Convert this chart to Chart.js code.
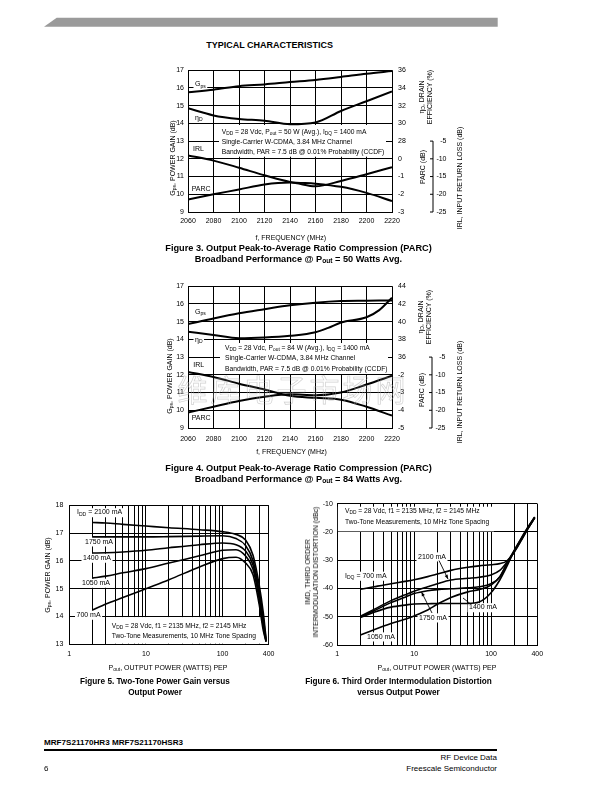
<!DOCTYPE html>
<html><head><meta charset="utf-8">
<script src="https://cdn.jsdelivr.net/npm/chart.js@4.4.1/dist/chart.umd.min.js"></script>
<style>
html,body{margin:0;padding:0;background:#fff;}
body{width:612px;height:792px;position:relative;overflow:hidden;color:#000;}
canvas{position:absolute;}
.t{position:absolute;white-space:nowrap;line-height:1;}
.t sub{font-size:72%;vertical-align:-0.25em;line-height:0;}
</style></head><body>
<svg style="position:absolute;left:0;top:0" width="612" height="40"><polygon points="56.7,17.7 497.7,17.7 497.7,26.7 44,26.7" fill="#9a9a9a"/></svg>
<canvas id="c3" width="350" height="175" style="left:130px;top:60px;width:350px;height:175px"></canvas>
<canvas id="c4" width="350" height="175" style="left:130px;top:276px;width:350px;height:175px"></canvas>
<canvas id="c5" width="250" height="170" style="left:30px;top:495px;width:250px;height:170px"></canvas>
<canvas id="c6" width="260" height="170" style="left:290px;top:495px;width:260px;height:170px"></canvas>
<script>
const NARROW = '"Liberation Sans Narrow", "Liberation Sans", Arial, sans-serif';
const WIDE = '"Liberation Sans", Arial, sans-serif';

// ---------- Figure 3 data (Pout = 50 W) ----------
const fig3Freq = [2060, 2080, 2100, 2120, 2140, 2160, 2180, 2200, 2220];
const fig3Gps  = [15.75, 15.9, 16.1, 16.2, 16.33, 16.45, 16.62, 16.8, 16.95];
const fig3EtaFreq = [2060, 2080, 2100, 2120, 2140, 2160, 2180, 2200, 2220];
const fig3Eta  = [31.7, 30.9, 30.5, 30.3, 29.9, 30.1, 31.4, 32.5, 33.6];
const fig3Irl  = [-9.05, -10.5, -12.5, -14.65, -16.5, -17.0, -17.9, -19.6, -21.9];
const fig3Parc = [-2.29, -2.0, -1.73, -1.45, -1.34, -1.55, -1.25, -0.87, -0.47];
const fig3GainTicks = [9, 10, 11, 12, 13, 14, 15, 16, 17];
const fig3EtaTicks  = [28, 30, 32, 34, 36];
const fig3ParcTicks = [0, -1, -2, -3];
const fig3IrlTicks  = [-5, -10, -15, -20, -25];

// ---------- Figure 4 data (Pout = 84 W) ----------
const fig4Freq = [2060, 2080, 2100, 2120, 2140, 2160, 2180, 2200, 2220];
const fig4Gps  = [14.86, 15.18, 15.47, 15.7, 15.92, 16.07, 16.16, 16.18, 16.2];
const fig4EtaFreq = [2060, 2080, 2100, 2120, 2140, 2160, 2170, 2180, 2200, 2210, 2220];
const fig4Eta  = [38.86, 38.5, 38.12, 38.2, 38.4, 38.8, 39.3, 39.9, 40.5, 41.3, 42.7];
const fig4Irl  = [-9.2, -10.6, -12.5, -14.15, -15.9, -16.5, -17.0, -19.0, -21.5];
const fig4Parc = [-4.13, -3.8, -3.48, -3.24, -3.1, -3.15, -3.0, -2.55, -2.05];
const fig4GainTicks = [9, 10, 11, 12, 13, 14, 15, 16, 17];
const fig4EtaTicks  = [36, 38, 40, 42, 44];
const fig4ParcTicks = [-2, -3, -4, -5];
const fig4IrlTicks  = [-5, -10, -15, -20, -25];

// ---------- Figure 5 data (two-tone gain) ----------
const fig5Pout  = [2, 3, 5, 10, 20, 50, 100, 150, 200, 250, 300, 340, 370];
const fig5G2100 = [17.38, 17.36, 17.31, 17.25, 17.19, 17.12, 17.05, 16.95, 16.75, 16.2, 15.15, 14.15, 13.2];
const fig5G1750 = [16.86, 16.86, 16.86, 16.86, 16.87, 16.89, 16.9, 16.8, 16.55, 16.0, 14.95, 13.95, 13.15];
const fig5G1400 = [16.28, 16.29, 16.32, 16.38, 16.47, 16.58, 16.64, 16.58, 16.35, 15.85, 14.8, 13.8, 13.1];
const fig5G1050 = [15.38, 15.45, 15.57, 15.72, 15.92, 16.18, 16.38, 16.4, 16.17, 15.7, 14.65, 13.65, 13.1];
const fig5G700  = [14.23, 14.45, 14.68, 15.0, 15.32, 15.78, 16.08, 16.13, 15.92, 15.5, 14.45, 13.5, 13.1];
const fig5GainTicks = [13, 14, 15, 16, 17, 18];

// ---------- Figure 6 data (IMD) ----------
const fig6Pout  = [2, 3, 5, 8, 10, 15, 20, 30, 50, 70, 100, 130, 160, 200, 250, 300, 370];
const fig6I700  = [-40.3, -39.4, -38.3, -37.4, -36.9, -35.8, -34.9, -33.6, -32.5, -32.0, -31.6, -31.2, -30.3, -27.2, -22.8, -19.0, -15.0];
const fig6I2100 = [-49.8, -47.4, -44.3, -42.0, -41.0, -39.4, -38.3, -37.0, -36.4, -36.0, -35.2, -33.6, -30.8, -27.0, -22.6, -18.9, -15.0];
const fig6I1750 = [-50.0, -47.9, -45.0, -42.8, -41.8, -40.8, -40.4, -40.1, -39.8, -39.4, -38.3, -36.0, -31.4, -26.9, -22.4, -18.8, -14.9];
const fig6I1400 = [-50.3, -48.4, -46.6, -45.8, -45.5, -45.4, -45.3, -45.3, -45.3, -44.8, -41.5, -37.0, -32.3, -26.8, -22.2, -18.6, -14.8];
const fig6I1050 = [-56.5, -54.6, -52.4, -50.7, -49.7, -47.6, -45.6, -43.2, -41.2, -40.4, -38.8, -35.8, -31.2, -26.5, -22.0, -18.4, -14.7];
const fig6ImdTicks = [-60, -50, -40, -30, -20, -10];

// log axis grid/ticks shared by fig 5 and 6
const powerGridTicks = [1,2,3,4,5,6,7,8,9,10,20,30,40,50,60,70,80,90,100,200,300,400];
const powerTickLabels = [1, 10, 100, 400];

Chart.defaults.font.family = NARROW;
Chart.defaults.font.size = 7;
Chart.defaults.color = '#000';

const GRID = {color:'#000', lineWidth:1, drawTicks:false};
const BORDER = {color:'#000', width:1};
const NOTE = 6.7;

function series(xs, ys, axis, w) {
  return {data: xs.map((x, i) => ({x: x, y: ys[i]})), yAxisID: axis, borderColor:'#000',
          borderWidth: w, pointRadius: 0, fill: false, cubicInterpolationMode: 'monotone'};
}

function rich(ctx, str, x, y, size, align, bg) {
  const parts = []; const re = /_\{([^}]*)\}/g; let last = 0, m;
  while ((m = re.exec(str))) {
    if (m.index > last) parts.push({t: str.slice(last, m.index), sub: false});
    parts.push({t: m[1], sub: true}); last = re.lastIndex;
  }
  if (last < str.length) parts.push({t: str.slice(last), sub: false});
  let w = 0;
  parts.forEach(p => { ctx.font = (p.sub ? size * 0.72 : size) + 'px ' + NARROW; p.w = ctx.measureText(p.t).width; w += p.w; });
  let sx = align === 'center' ? x - w / 2 : align === 'right' ? x - w : x;
  if (bg) { ctx.fillStyle = '#fff'; ctx.fillRect(sx - 1.5, y - size * 0.62, w + 3, size * 1.3); }
  ctx.fillStyle = '#000'; ctx.textBaseline = 'middle'; ctx.textAlign = 'left';
  parts.forEach(p => { ctx.font = (p.sub ? size * 0.72 : size) + 'px ' + NARROW; ctx.fillText(p.t, sx, y + (p.sub ? size * 0.3 : 0)); sx += p.w; });
}

function arrow(ctx, x0, y0, x1, y1, head) {
  ctx.save(); ctx.strokeStyle = '#000'; ctx.fillStyle = '#000'; ctx.lineWidth = 0.9;
  ctx.beginPath(); ctx.moveTo(x0, y0); ctx.lineTo(x1, y1); ctx.stroke();
  if (head) {
    const a = Math.atan2(y1 - y0, x1 - x0), L = 4.5, s = 0.38;
    ctx.beginPath(); ctx.moveTo(x1, y1);
    ctx.lineTo(x1 - L * Math.cos(a - s), y1 - L * Math.sin(a - s));
    ctx.lineTo(x1 - L * Math.cos(a + s), y1 - L * Math.sin(a + s));
    ctx.closePath(); ctx.fill();
  }
  ctx.restore();
}

// ---------- frequency charts (fig 3, fig 4) ----------
function makeFreqChart(id, p) {
  const rightTicks = p.etaTicks.map(v => ({v: v, label: String(v)})).concat(
    p.parcTicks.map(q => ({v: p.etaMin + (q - p.parcMin) / (p.parcMax - p.parcMin) * (p.etaMax - p.etaMin), label: String(q)})));
  const extras = {
    id: 'extras' + id,
    beforeDatasetsDraw(chart) {
      const ctx = chart.ctx; const b = p.box;
      ctx.save();
      ctx.fillStyle = '#fff'; ctx.fillRect(b.x0, b.y0, b.x1 - b.x0, b.y1 - b.y0);
      p.boxText.forEach((t, i) => rich(ctx, t, b.tx, b.ty + i * b.lh, NOTE, 'left', false));
      p.labels.forEach(l => rich(ctx, l.t, l.x, l.y, 7, 'left', true));
      ctx.restore();
    },
    afterDraw(chart) {
      const ctx = chart.ctx; const s = chart.scales.yIrl; const x = p.irlX;
      const yTop = s.getPixelForValue(p.irlTicks[0]), yBot = s.getPixelForValue(p.irlTicks[p.irlTicks.length - 1]);
      ctx.save(); ctx.strokeStyle = '#000'; ctx.lineWidth = 1;
      ctx.beginPath(); ctx.moveTo(x, yTop); ctx.lineTo(x, yBot); ctx.stroke();
      p.irlTicks.forEach(v => {
        const y = s.getPixelForValue(v);
        ctx.beginPath(); ctx.moveTo(x - 3, y); ctx.lineTo(x, y); ctx.stroke();
        rich(ctx, String(v), x + 13.5, y, 7, 'right', false);
      });
      ctx.restore();
    }
  };
  return new Chart(document.getElementById(id), {
    type: 'line',
    data: {datasets: [
      series(p.freq, p.gps, 'y', 2),
      series(p.etaFreq, p.eta, 'yEta', 2),
      series(p.freq, p.irl, 'yIrl', 2),
      series(p.freq, p.parc, 'yParc', 2)]},
    options: {
      responsive: false, animation: false, events: [],
      layout: {padding: {top: 9, left: 0, right: 0, bottom: 0}},
      plugins: {legend: {display: false}, tooltip: {enabled: false}},
      scales: {
        x: {type: 'linear', min: p.freq[0], max: p.freq[p.freq.length - 1],
            afterBuildTicks: s => { s.ticks = p.freq.map(v => ({value: v})); },
            ticks: {padding: p.xPad, maxRotation: 0, autoSkip: false, callback: v => String(v)},
            grid: GRID, border: BORDER, afterFit: s => { s.height = 23; }},
        y: {position: 'left', min: p.gainTicks[0], max: p.gainTicks[p.gainTicks.length - 1],
            afterBuildTicks: s => { s.ticks = p.gainTicks.map(v => ({value: v})); },
            ticks: {padding: 4, autoSkip: false}, grid: GRID, border: BORDER,
            afterFit: s => { s.width = 58; }},
        yEta: {position: 'right', min: p.etaMin, max: p.etaMax,
            afterBuildTicks: s => { s.ticks = rightTicks.map(t => ({value: t.v})); },
            ticks: {padding: 6, autoSkip: false, callback: (v, i) => rightTicks[i].label},
            grid: {display: false, drawTicks: false}, border: {display: false},
            afterFit: s => { s.width = 88; }},
        yParc: {display: false, min: p.parcMin, max: p.parcMax},
        yIrl: {display: false, min: p.irlMin, max: p.irlMax}
      }
    },
    plugins: [extras]
  });
}

makeFreqChart('c3', {
  freq: fig3Freq, gps: fig3Gps, etaFreq: fig3EtaFreq, eta: fig3Eta, irl: fig3Irl, parc: fig3Parc,
  gainTicks: fig3GainTicks, etaTicks: fig3EtaTicks, parcTicks: fig3ParcTicks, irlTicks: fig3IrlTicks,
  etaMin: 20, etaMax: 36, parcMin: -3, parcMax: 5, irlMin: -25, irlMax: 15, xPad: 5, irlX: 303,
  box: {x0: 89, y0: 65, x1: 256, y1: 96.7, tx: 91.7, ty: 71.7, lh: 10},
  boxText: ['V_{DD} = 28 Vdc, P_{out} = 50 W (Avg.), I_{DQ} = 1400 mA',
            'Single-Carrier W-CDMA, 3.84 MHz Channel',
            'Bandwidth, PAR = 7.5 dB @ 0.01% Probability (CCDF)'],
  labels: [{t: 'G_{ps}', x: 65, y: 24.5}, {t: 'η_{D}', x: 65, y: 57.7}, {t: 'IRL', x: 63, y: 89.3}, {t: 'PARC', x: 61.7, y: 129}]
});

makeFreqChart('c4', {
  freq: fig4Freq, gps: fig4Gps, etaFreq: fig4EtaFreq, eta: fig4Eta, irl: fig4Irl, parc: fig4Parc,
  gainTicks: fig4GainTicks, etaTicks: fig4EtaTicks, parcTicks: fig4ParcTicks, irlTicks: fig4IrlTicks,
  etaMin: 28, etaMax: 44, parcMin: -5, parcMax: 3, irlMin: -25, irlMax: 15, xPad: 6.5, irlX: 302,
  box: {x0: 90, y0: 67, x1: 258, y1: 98, tx: 95, ty: 71.7, lh: 10.8},
  boxText: ['V_{DD} = 28 Vdc, P_{out} = 84 W (Avg.), I_{DQ} = 1400 mA',
            'Single-Carrier W-CDMA, 3.84 MHz Channel',
            'Bandwidth, PAR = 7.5 dB @ 0.01% Probability (CCDF)'],
  labels: [{t: 'G_{ps}', x: 65, y: 35.7}, {t: 'η_{D}', x: 65, y: 64}, {t: 'IRL', x: 63.3, y: 89}, {t: 'PARC', x: 61.7, y: 141.7}]
});

// ---------- power charts (fig 5, fig 6) ----------
function makePowerChart(id, p) {
  const extras = {
    id: 'extras' + id,
    beforeDatasetsDraw(chart) {
      const ctx = chart.ctx, a = chart.chartArea, ys = chart.scales.y;
      ctx.save();
      const b = p.box(a, ys);
      ctx.fillStyle = '#fff'; ctx.fillRect(b.x0, b.y0, b.x1 - b.x0, b.y1 - b.y0);
      p.boxText.forEach((t, i) => rich(ctx, t, p.tx, p.ty + i * p.lh, NOTE, 'left', false));
      p.labels.forEach(l => rich(ctx, l.t, l.x, l.y, 7, 'left', true));
      ctx.restore();
    },
    afterDatasetsDraw(chart) {
      (p.arrows || []).forEach(r => arrow(chart.ctx, r[0], r[1], r[2], r[3], r[4]));
    }
  };
  return new Chart(document.getElementById(id), {
    type: 'line',
    data: {datasets: p.curves.map(c => series(p.pout, c, 'y', 1.6))},
    options: {
      responsive: false, animation: false, events: [],
      layout: {padding: {top: p.padTop, left: 0, right: p.padRight, bottom: 0}},
      plugins: {legend: {display: false}, tooltip: {enabled: false}},
      scales: {
        x: {type: 'logarithmic', min: 1, max: 400,
            afterBuildTicks: s => { s.ticks = powerGridTicks.map(v => ({value: v})); },
            ticks: {padding: p.xPad, maxRotation: 0, autoSkip: false,
                    callback: v => powerTickLabels.includes(v) ? String(v) : ''},
            grid: GRID, border: BORDER, afterFit: s => { s.height = p.xH; }},
        y: {position: 'left', min: p.yTicks[0], max: p.yTicks[p.yTicks.length - 1],
            afterBuildTicks: s => { s.ticks = p.yTicks.map(v => ({value: v})); },
            ticks: {padding: p.yPad, autoSkip: false}, grid: GRID, border: BORDER,
            afterFit: s => { s.width = p.yW; }}
      }
    },
    plugins: [extras]
  });
}

makePowerChart('c5', {
  pout: fig5Pout, curves: [fig5G2100, fig5G1750, fig5G1400, fig5G1050, fig5G700], yTicks: fig5GainTicks,
  padTop: 6, padRight: 10, xH: 20.7, yW: 39.3, xPad: 5.5, yPad: 6,
  box: (a, ys) => ({x0: 76.5, y0: ys.getPixelForValue(14) + 0.6, x1: a.right - 0.6, y1: a.bottom - 0.6}),
  tx: 81.7, ty: 131, lh: 9.7,
  boxText: ['V_{DD} = 28 Vdc, f1 = 2135 MHz, f2 = 2145 MHz', 'Two-Tone Measurements, 10 MHz Tone Spacing'],
  labels: [{t: 'I_{DD} = 2100 mA', x: 47, y: 17.5}, {t: '1750 mA', x: 55, y: 46.7}, {t: '1400 mA', x: 53, y: 63},
           {t: '1050 mA', x: 52, y: 88}, {t: '700 mA', x: 46.5, y: 120}]
});

makePowerChart('c6', {
  pout: fig6Pout, curves: [fig6I700, fig6I2100, fig6I1750, fig6I1400, fig6I1050], yTicks: fig6ImdTicks,
  padTop: 6.7, padRight: 12.7, xH: 20, yW: 47.3, xPad: 5, yPad: 4.5,
  box: (a, ys) => ({x0: a.left + 0.6, y0: a.top + 3, x1: 204, y1: ys.getPixelForValue(-20) - 0.6}),
  tx: 55, ty: 15.7, lh: 11.6,
  boxText: ['V_{DD} = 28 Vdc, f1 = 2135 MHz, f2 = 2145 MHz', 'Two-Tone Measurements, 10 MHz Tone Spacing'],
  labels: [{t: '2100 mA', x: 128, y: 61.7}, {t: 'I_{DQ} = 700 mA', x: 55, y: 81}, {t: '1750 mA', x: 129, y: 122.7},
           {t: '1400 mA', x: 179, y: 112.5}, {t: '1050 mA', x: 77, y: 141.7}],
  arrows: [[149, 65.5, 158, 84, true], [142, 118, 131.5, 97, true], [180, 108.5, 173, 103, false]]
});

// ---------- page text ----------
function T(html, x, y, o) {
  o = o || {};
  const d = document.createElement('div');
  d.className = 't'; d.innerHTML = html;
  d.style.left = x + 'px'; d.style.top = y + 'px';
  d.style.fontSize = (o.size || 7) + 'px';
  d.style.fontFamily = o.family || (o.wide ? WIDE : NARROW);
  if (o.bold) d.style.fontWeight = 'bold';
  if (o.lh) d.style.lineHeight = o.lh + 'px';
  d.style.textAlign = o.align === 'right' ? 'right' : o.align === 'left' ? 'left' : 'center';
  const ax = o.align === 'left' ? '0' : o.align === 'right' ? '-100%' : '-50%';
  d.style.transform = 'translate(' + ax + ',-50%)' + (o.rot ? ' rotate(-90deg)' : '');
  if (o.css) Object.assign(d.style, o.css);
  document.body.appendChild(d);
  return d;
}

T('TYPICAL CHARACTERISTICS', 269.7, 45, {size: 9, bold: true, wide: true});

// fig 3 titles
T('G<sub>ps</sub>, POWER GAIN (dB)', 171.7, 158, {rot: true});
T('η<sub>D</sub>, DRAIN<br>EFFICIENCY (%)', 426, 97, {rot: true, lh: 8.3});
T('PARC (dB)', 421.7, 167, {rot: true});
T('IRL, INPUT RETURN LOSS (dB)', 459.3, 177.5, {rot: true});
T('f, FREQUENCY (MHz)', 290.8, 236.7);
T('Figure 3. Output Peak-to-Average Ratio Compression (PARC)<br>Broadband Performance @ P<sub>out</sub> = 50 Watts Avg.', 298.5, 253.3, {size: 9.2, bold: true, wide: true, lh: 10.5});

// fig 4 titles
T('G<sub>ps</sub>, POWER GAIN (dB)', 169, 375.5, {rot: true});
T('η<sub>D</sub>, DRAIN<br>EFFICIENCY (%)', 424.5, 316.7, {rot: true, lh: 8.3});
T('PARC (dB)', 421.3, 390, {rot: true});
T('IRL, INPUT RETURN LOSS (dB)', 458.5, 392, {rot: true});
T('f, FREQUENCY (MHz)', 291.5, 451);
T('Figure 4. Output Peak-to-Average Ratio Compression (PARC)<br>Broadband Performance @ P<sub>out</sub> = 84 Watts Avg.', 298.5, 473, {size: 9.2, bold: true, wide: true, lh: 10.5});
T('维库电子市场网', 293, 388, {size: 30, family: '"Noto Sans CJK SC", sans-serif',
  css: {color: 'rgba(0,0,0,0)', webkitTextStroke: '0.7px rgba(170,170,170,0.55)', letterSpacing: '3px'}});

// fig 5 titles
T('G<sub>ps</sub>, POWER GAIN (dB)', 47.3, 575, {rot: true});
T('P<sub>out</sub>, OUTPUT POWER (WATTS) PEP', 168, 666.5);
T('Figure 5. Two-Tone Power Gain versus<br>Output Power', 155, 688, {size: 8.2, bold: true, wide: true, lh: 10.6});

// fig 6 titles
T('IMD, THIRD ORDER<br>INTERMODULATION DISTORTION (dBc)', 311.5, 572, {rot: true, lh: 8});
T('P<sub>out</sub>, OUTPUT POWER (WATTS) PEP', 437, 666.5);
T('Figure 6. Third Order Intermodulation Distortion<br>versus Output Power', 398.5, 688, {size: 8.2, bold: true, wide: true, lh: 10.6});

// footer
T('MRF7S21170HR3 MRF7S21170HSR3', 44, 742.7, {size: 8.1, bold: true, wide: true, align: 'left'});
const rule = document.createElement('div');
Object.assign(rule.style, {position: 'absolute', left: '44px', top: '749.3px', width: '453px', height: '1.4px', background: '#000'});
document.body.appendChild(rule);
T('RF Device Data', 497, 758.3, {size: 8, wide: true, align: 'right'});
T('Freescale Semiconductor', 497, 769, {size: 8, wide: true, align: 'right'});
T('6', 44, 769, {size: 8, wide: true, align: 'left'});
</script>
</body></html>
